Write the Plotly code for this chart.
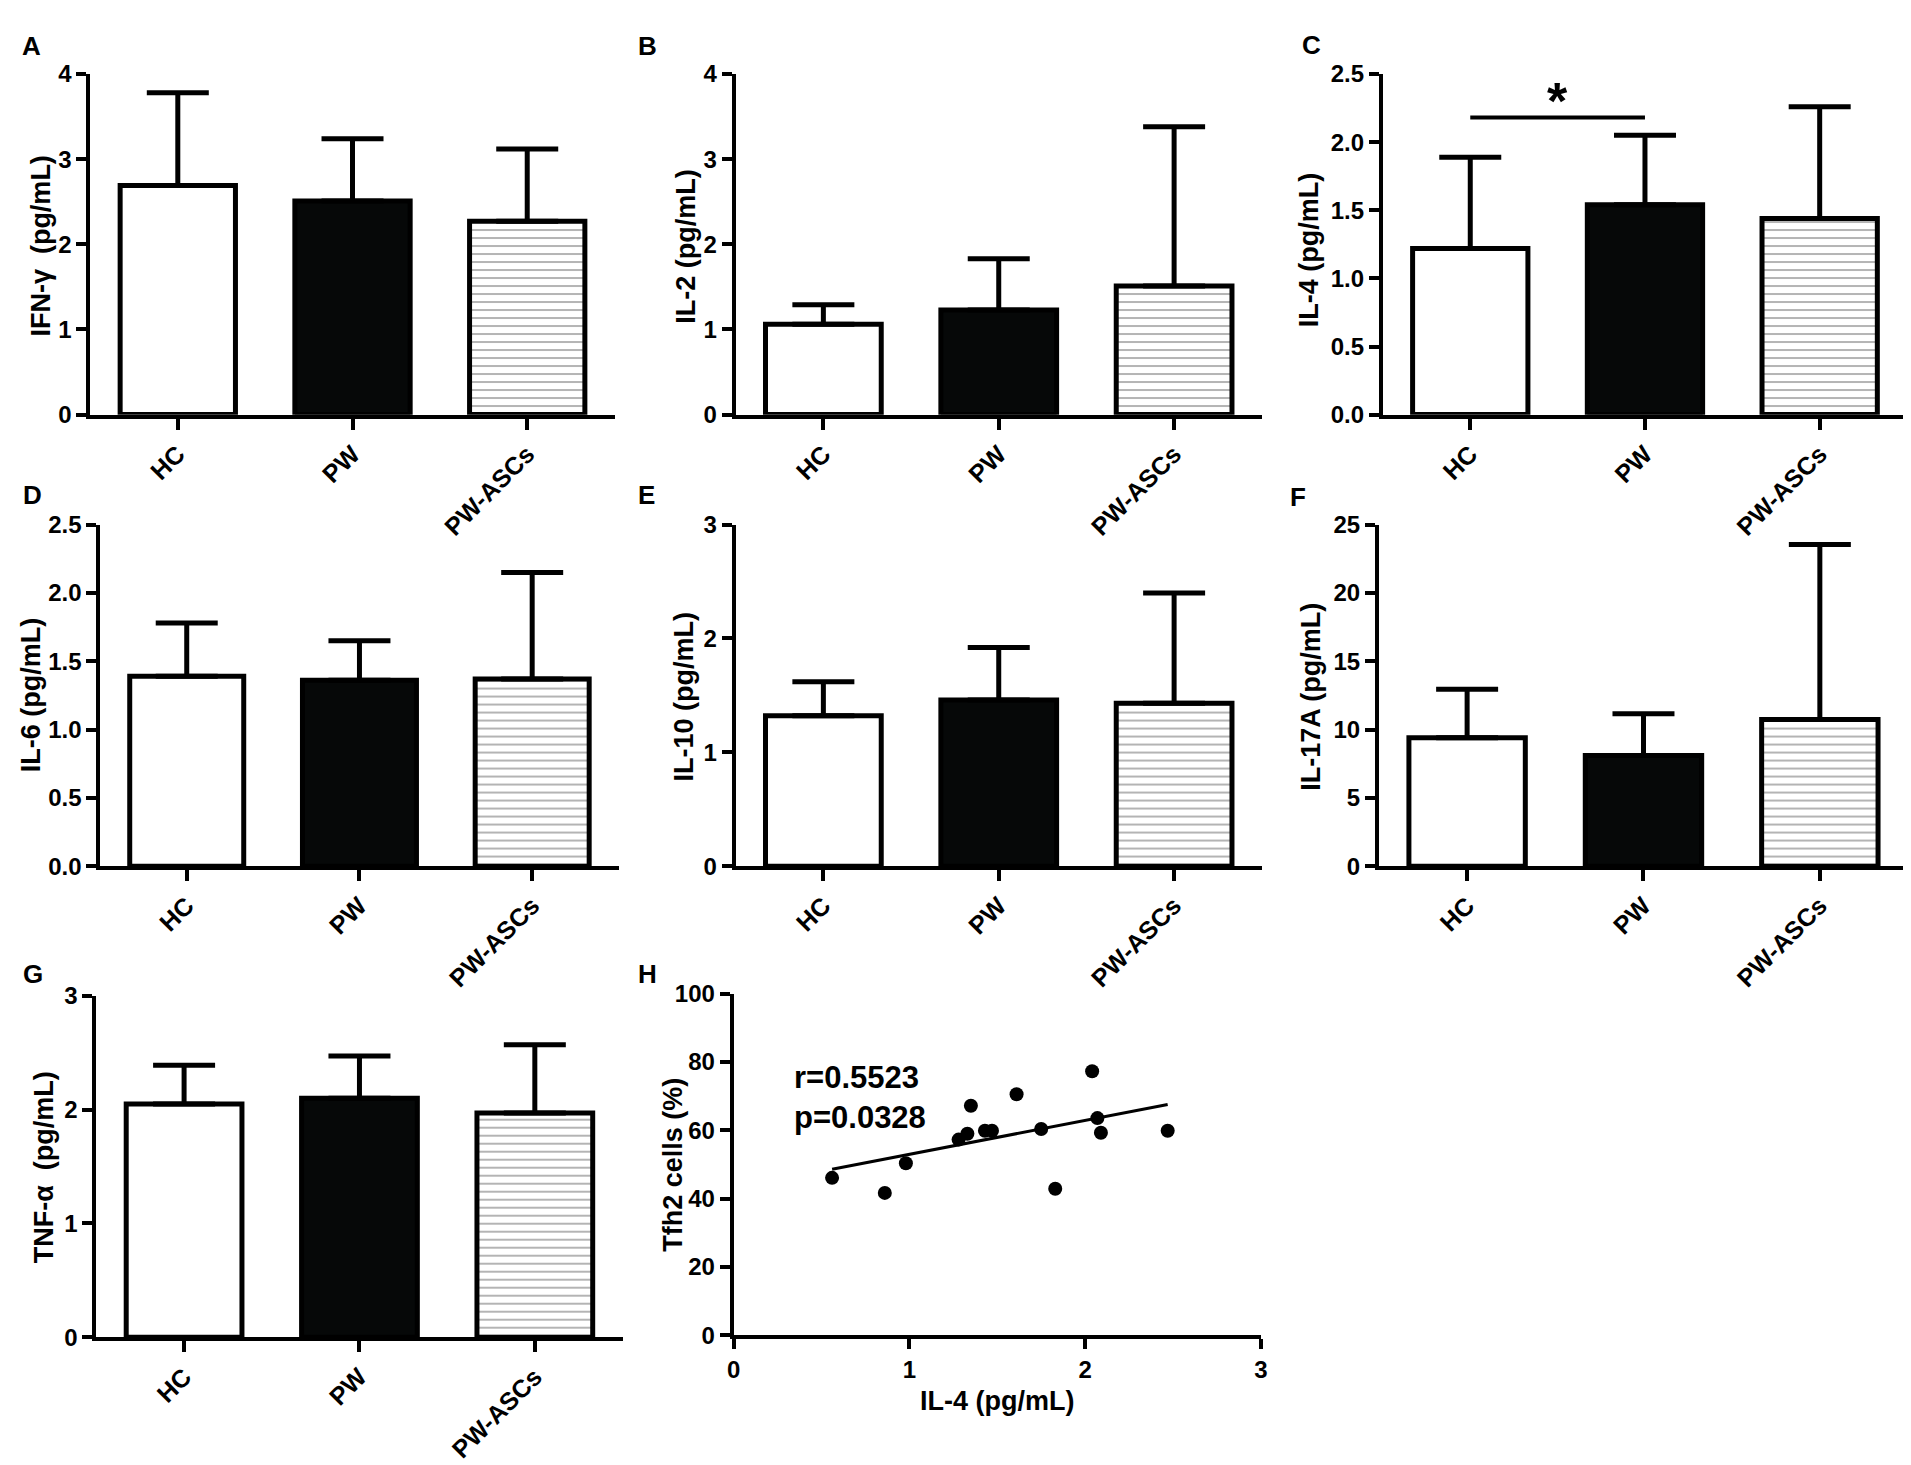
import numpy as np
import plotly.graph_objects as go

# Cytokine levels (mean and SD) per group
groups = ["HC", "PW", "PW-ASCs"]

ifng_mean = [2.69, 2.51, 2.27]
ifng_sd = [1.09, 0.73, 0.85]
il2_mean = [1.06, 1.23, 1.51]
il2_sd = [0.23, 0.60, 1.87]
il4_mean = [1.22, 1.54, 1.44]
il4_sd = [0.67, 0.51, 0.82]
il6_mean = [1.39, 1.36, 1.37]
il6_sd = [0.39, 0.29, 0.78]
il10_mean = [1.32, 1.46, 1.43]
il10_sd = [0.30, 0.46, 0.97]
il17a_mean = [9.40, 8.10, 10.74]
il17a_sd = [3.54, 3.05, 12.80]
tnfa_mean = [2.05, 2.10, 1.97]
tnfa_sd = [0.34, 0.37, 0.60]

# significance bar in panel C: (from group, to group, height, label)
il4_sig = ("HC", "PW", 2.18, "*")

# Panel H: IL-4 vs Tfh2 cells
il4_conc = [0.56, 0.86, 0.98, 1.28, 1.33, 1.35, 1.43, 1.47, 1.61, 1.75, 1.83, 2.04, 2.07, 2.09, 2.47]
tfh2_pct = [46.1, 41.7, 50.4, 57.3, 59.0, 67.2, 59.9, 59.9, 70.6, 60.4, 42.9, 77.3, 63.6, 59.3, 59.9]
corr_text = "r=0.5523<br>p=0.0328"

W, H = 1911, 1465
SANS = "Liberation Sans, Arial, sans-serif"


def dx(a, b):
    return [a / W, b / W]


def dy(top, bottom):
    return [1 - bottom / H, 1 - top / H]


def bold(size):
    return dict(family=SANS, size=size, color="black", weight="bold")


# panel letter, y title, mean, sd, y max, dtick, tick format, x px range, y px range, title x/y
panels = [
    ("A", "IFN-γ  (pg/mL)", ifng_mean, ifng_sd, 4, 1, "d", (76, 604), (53, 400), (26, 228)),
    ("B", "IL-2 (pg/mL)", il2_mean, il2_sd, 4, 1, "d", (726, 1256), (53, 400), (676, 229)),
    ("C", "IL-4 (pg/mL)", il4_mean, il4_sd, 2.5, 0.5, ".1f", (1378, 1906), (53, 400), (1303, 232)),
    ("D", "IL-6 (pg/mL)", il6_mean, il6_sd, 2.5, 0.5, ".1f", (86, 608), (512, 860), (16, 686)),
    ("E", "IL-10 (pg/mL)", il10_mean, il10_sd, 3, 1, "d", (726, 1256), (512, 860), (674, 687)),
    ("F", "IL-17A (pg/mL)", il17a_mean, il17a_sd, 25, 5, "d", (1374, 1907), (512, 860), (1306, 687)),
    ("G", "TNF-α  (pg/mL)", tnfa_mean, tnfa_sd, 3, 1, "d", (82, 612), (992, 1340), (30, 1167)),
]
letter_pos = {"A": (5, 7), "B": (626, 7), "C": (1294, 6), "D": (6, 465), "E": (626, 465),
              "F": (1282, 467), "G": (6, 953), "H": (626, 953)}

fig = go.Figure()
layout = dict(width=W, height=H, autosize=False, margin=dict(l=0, r=0, t=0, b=0),
              paper_bgcolor="white", plot_bgcolor="white", showlegend=False)
annotations = []
shapes = []

axis_common = dict(showline=True, linecolor="black", linewidth=4, ticks="outside",
                   tickwidth=4, tickcolor="black", showgrid=False, zeroline=False)

fills = ["white", "#060808", "white"]
patterns = ["", "", "-"]

for i, (letter, ytitle, mean, sd, ymax, step, fmt, xpx, ypx, tpos) in enumerate(panels):
    n = i + 1
    xa = "x" if n == 1 else f"x{n}"
    ya = "y" if n == 1 else f"y{n}"
    fig.add_trace(go.Bar(
        x=groups, y=mean, width=0.66, xaxis=xa, yaxis=ya,
        marker=dict(color=fills, line=dict(color="black", width=5),
                    pattern=dict(shape=patterns, size=8, solidity=0.2,
                                 fgcolor="#151515", bgcolor="white")),
        error_y=dict(type="data", array=sd, arrayminus=[0] * len(sd), symmetric=False,
                     color="black", thickness=5, width=31),
    ))
    layout["xaxis" if n == 1 else f"xaxis{n}"] = dict(
        axis_common, domain=dx(*xpx), anchor=ya, type="category", range=[-0.5, 2.5],
        ticklen=11, tickangle=-45, tickfont=bold(25))
    layout["yaxis" if n == 1 else f"yaxis{n}"] = dict(
        axis_common, domain=dy(*ypx), anchor=xa, range=[0, ymax], tick0=0, dtick=step,
        tickformat=fmt, ticklen=10, tickfont=bold(24))
    annotations.append(dict(
        text=ytitle, xref="paper", yref="paper", x=tpos[0] / W, y=1 - tpos[1] / H,
        xanchor="center", yanchor="middle", textangle=-90, showarrow=False,
        font=bold(27)))

# significance bar on IL-4 panel
g1, g2, level, mark = il4_sig
shapes.append(dict(type="line", xref="x3", yref="y3", x0=g1, x1=g2, y0=level, y1=level,
                   line=dict(color="black", width=4)))
annotations.append(dict(text=mark, xref="x3", yref="y3", x=0.5, y=level, yanchor="bottom",
                        showarrow=False, yshift=-14, font=bold(52)))

# Panel H scatter with regression line
slope, intercept = np.polyfit(il4_conc, tfh2_pct, 1)
fit_x = np.array([min(il4_conc), max(il4_conc)])
fig.add_trace(go.Scatter(x=fit_x, y=slope * fit_x + intercept, mode="lines",
                         line=dict(color="black", width=3), xaxis="x8", yaxis="y8"))
fig.add_trace(go.Scatter(x=il4_conc, y=tfh2_pct, mode="markers",
                         marker=dict(color="black", size=14), xaxis="x8", yaxis="y8"))
layout["xaxis8"] = dict(axis_common, domain=dx(724, 1255), anchor="y8", range=[0, 3],
                        tick0=0, dtick=1, ticklen=10, tickfont=bold(24))
layout["yaxis8"] = dict(axis_common, domain=dy(990, 1338), anchor="x8", range=[0, 100],
                        tick0=0, dtick=20, ticklen=10, tickfont=bold(24))
annotations.append(dict(text="Tfh2 cells (%)", xref="paper", yref="paper", x=662 / W,
                        y=1 - 1164 / H, textangle=-90, showarrow=False, xanchor="center",
                        yanchor="middle", font=bold(27)))
annotations.append(dict(text="IL-4 (pg/mL)", xref="paper", yref="paper", x=989 / W,
                        y=1 - 1405 / H, showarrow=False, xanchor="center", yanchor="middle",
                        font=bold(27)))
annotations.append(dict(text=corr_text, xref="paper", yref="paper", x=783 / W,
                        y=1 - 1055 / H, showarrow=False, xanchor="left", yanchor="top",
                        align="left", font=bold(31)))

# panel letters
for letter, (px, py) in letter_pos.items():
    annotations.append(dict(text=letter, xref="paper", yref="paper", x=px / W, y=1 - py / H,
                            xanchor="left", yanchor="top", showarrow=False, font=bold(26)))

layout["annotations"] = annotations
layout["shapes"] = shapes
fig.update_layout(**layout)

fig.write_html("out.html")
